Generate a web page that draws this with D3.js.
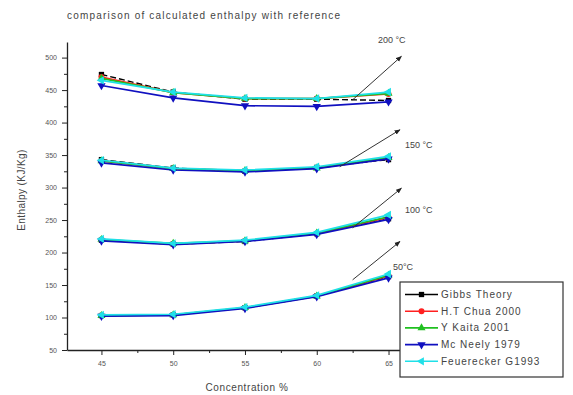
<!DOCTYPE html>
<html>
<head>
<meta charset="utf-8">
<script src="https://cdn.jsdelivr.net/npm/d3@7"></script>
<style>
  body { margin: 0; background: #fff; }
  svg { display: block; font-family: Arial, "Liberation Sans", sans-serif; }
</style>
</head>
<body>
<script>
// concentration of the solution, %
const concentrations = [45, 50, 55, 60, 65];
const temperatures = [50, 100, 150, 200];
const xTicks = [45, 50, 55, 60, 65];
const yTicks = [50, 100, 150, 200, 250, 300, 350, 400, 450, 500];

// enthalpy (kJ/kg), one row per temperature (50, 100, 150, 200 C)
const gibbsTheory = [[103, 104, 115, 133, 163], [219, 213, 217, 229, 252], [343, 330, 325, 331, 343], [474, 447, 436, 436, 434]];
const chua2000 = [[103, 104, 115, 133, 164], [220, 213, 218, 229, 254], [341, 329, 326, 330, 345], [470, 446, 437, 437, 444]];
const kaita2001 = [[103, 104, 115, 133, 165], [220, 214, 218, 230, 255], [341, 329, 326, 330, 346], [468, 446, 437, 437, 445]];
const mcNeely1979 = [[102, 103, 114, 132, 161], [218, 212, 217, 228, 251], [338, 327, 324, 329, 344], [457, 438, 426, 425, 432]];
const feuerecker1993 = [[104, 105, 116, 134, 167], [221, 214, 219, 231, 258], [342, 330, 327, 332, 348], [465, 447, 438, 437, 447]];

const seriesNames = ["Gibbs Theory", "H.T Chua 2000", "Y Kaita 2001", "Mc Neely 1979", "Feuerecker G1993"];
const seriesColors = ["#000000", "#ff2020", "#20c020", "#1010c0", "#20e0e8"];

// arrow annotations in data units: [x0, y0, x1, y1]
const arrowLabels = ["50\u00B0C", "100 \u00B0C", "150 \u00B0C", "200 \u00B0C"];
const arrowCoords = [[62.5, 158, 65.8, 217], [62.5, 238, 65.9, 299], [61.6, 332, 65.8, 389], [62.5, 435, 65.9, 502]];

const width = 573, height = 395;
const svg = d3.select("body").append("svg")
    .attr("width", width)
    .attr("height", height);

const x = d3.scaleLinear().domain([42.6, 65.8]).range([67, 400]);
const y = d3.scaleLinear().domain([50, 524]).range([350, 42]);

svg.append("defs").append("marker")
    .attr("id", "arrowhead")
    .attr("viewBox", "0 0 10 10")
    .attr("refX", 9).attr("refY", 5)
    .attr("markerWidth", 6).attr("markerHeight", 6)
    .attr("orient", "auto")
    .append("path")
    .attr("d", "M0,1L10,5L0,9Z")
    .attr("fill", "#222");

// title
svg.append("text")
    .attr("x", 67).attr("y", 19)
    .attr("font-size", 10)
    .attr("fill", "#444")
    .attr("textLength", 273)
    .text("comparison of calculated enthalpy with reference");

// axes
svg.append("g")
    .attr("transform", "translate(0,350)")
    .call(d3.axisBottom(x).tickValues(xTicks).tickSize(5).tickSizeOuter(0).tickPadding(6));
svg.append("g")
    .attr("transform", "translate(0,350)")
    .call(d3.axisBottom(x).tickValues(xTicks.map(v => v + 2.5).filter(v => v < 65.8)).tickSize(3).tickFormat(""))
    .select(".domain").remove();

svg.append("g")
    .attr("transform", "translate(67,0)")
    .call(d3.axisLeft(y).tickValues(yTicks).tickSize(5).tickSizeOuter(0).tickPadding(5));
svg.append("g")
    .attr("transform", "translate(67,0)")
    .call(d3.axisLeft(y).tickValues(yTicks.map(v => v + 25).filter(v => v < 524)).tickSize(3).tickFormat(""))
    .select(".domain").remove();

svg.selectAll(".tick line").attr("stroke", "#222");
svg.selectAll(".domain").attr("stroke", "#222").attr("stroke-width", 1.3);
svg.selectAll(".tick text").attr("font-size", 7).attr("fill", "#555");

// axis titles
svg.append("text")
    .attr("x", 247).attr("y", 391)
    .attr("text-anchor", "middle")
    .attr("font-size", 10)
    .attr("letter-spacing", 0.6)
    .attr("fill", "#444")
    .text("Concentration %");

svg.append("text")
    .attr("transform", "translate(25,190) rotate(-90)")
    .attr("text-anchor", "middle")
    .attr("font-size", 10)
    .attr("letter-spacing", 0.4)
    .attr("fill", "#444")
    .text("Enthalpy (KJ/Kg)");

// series
const allSeries = [gibbsTheory, chua2000, kaita2001, mcNeely1979, feuerecker1993];
const symbols = [
    {type: d3.symbolSquare, rot: 0, size: 28},
    {type: d3.symbolCircle, rot: 0, size: 28},
    {type: d3.symbolTriangle, rot: 0, size: 28},
    {type: d3.symbolTriangle, rot: 180, size: 30},
    {type: d3.symbolTriangle, rot: -90, size: 30}
];

const line = d3.line()
    .x((d, i) => x(concentrations[i]))
    .y(d => y(d));

allSeries.forEach((rows, s) => {
    const g = svg.append("g");
    rows.forEach(row => {
        g.append("path")
            .attr("d", line(row))
            .attr("fill", "none")
            .attr("stroke", seriesColors[s])
            .attr("stroke-width", s === 0 ? 1.4 : 1.7)
            .attr("stroke-dasharray", s === 0 ? "6,3" : null);
        g.selectAll(null)
            .data(row)
            .join("path")
            .attr("transform", (d, i) => `translate(${x(concentrations[i])},${y(d)}) rotate(${symbols[s].rot})`)
            .attr("d", d3.symbol().type(symbols[s].type).size(symbols[s].size))
            .attr("fill", seriesColors[s]);
    });
});

// temperature arrows
const arrows = svg.append("g");
arrowCoords.forEach(c => {
    arrows.append("line")
        .attr("x1", x(c[0])).attr("y1", y(c[1]))
        .attr("x2", x(c[2])).attr("y2", y(c[3]))
        .attr("stroke", "#333")
        .attr("stroke-width", 1)
        .attr("marker-end", "url(#arrowhead)");
});
const labelPos = [[393, 270], [405, 213], [405, 148], [378, 43]];
arrowLabels.forEach((t, i) => {
    svg.append("text")
        .attr("x", labelPos[i][0]).attr("y", labelPos[i][1])
        .attr("font-size", 9)
        .attr("fill", "#444")
        .text(t);
});

// legend
const legend = svg.append("g").attr("transform", "translate(400,282)");
legend.append("rect")
    .attr("width", 163).attr("height", 95)
    .attr("fill", "#fff")
    .attr("stroke", "#333")
    .attr("stroke-width", 1.2);
seriesNames.forEach((name, s) => {
    const ly = 12.5 + s * 16.7;
    legend.append("line")
        .attr("x1", 5).attr("x2", 38)
        .attr("y1", ly).attr("y2", ly)
        .attr("stroke", seriesColors[s])
        .attr("stroke-width", 1.6);
    legend.append("path")
        .attr("transform", `translate(21.5,${ly}) rotate(${symbols[s].rot})`)
        .attr("d", d3.symbol().type(symbols[s].type).size(symbols[s].size))
        .attr("fill", seriesColors[s]);
    legend.append("text")
        .attr("x", 41).attr("y", ly + 3.5)
        .attr("font-size", 10)
        .attr("letter-spacing", 1)
        .attr("fill", "#444")
        .text(name);
});
</script>
</body>
</html>
